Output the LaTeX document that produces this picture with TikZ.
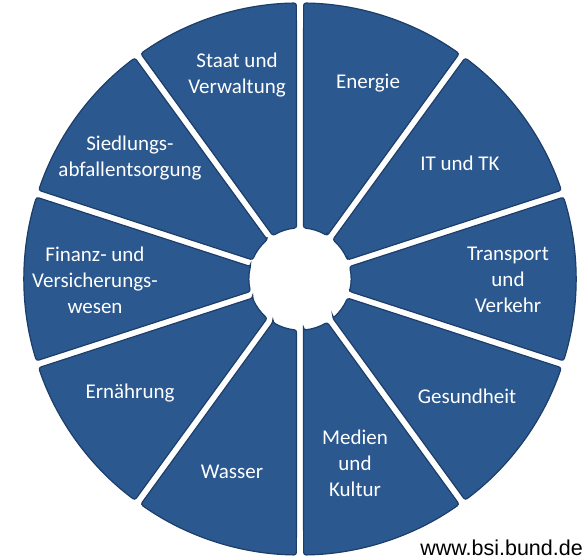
\documentclass[tikz,border=0pt]{standalone}
\usepackage{fontspec}
\setmainfont{Carlito}
\newfontfamily\urlfont{Liberation Sans}
\definecolor{bsiblue}{RGB}{42,88,143}
\definecolor{bsirim}{RGB}{28,62,105}
\tikzset{
  sector/.style={fill=bsiblue,draw=bsirim,line width=1.2pt,rounded corners=2.5pt},
  sectorlabel/.style={text=white,align=center,font=\fontsize{21}{26}\selectfont}
}
\begin{document}
\begin{tikzpicture}[x=1pt,y=1pt]
\useasboundingbox (0,0) rectangle (587,559);
\coordinate (c) at (300,280);
\foreach \a in {90,126,...,414}
  \draw[sector] ([shift={(\a+3.9:51)}]c) -- ([shift={(\a+0.75:276)}]c)
    arc[start angle=\a+0.75,end angle=\a+35.25,radius=276]
    -- ([shift={(\a+32.1:51)}]c)
    arc[start angle=\a+32.1,end angle=\a+3.9,radius=51] -- cycle;
\node[sectorlabel] (staat) at (237,484) {Staat und\\Verwaltung};
\node[sectorlabel] (energie) at (368,476) {Energie};
\node[sectorlabel] (siedlung) at (130,401) {Siedlungs-\\abfallentsorgung};
\node[sectorlabel] (ittk) at (460,396) {IT und TK};
\node[sectorlabel] (finanz) at (95,279) {Finanz- und\\Versicherungs-\\wesen};
\node[sectorlabel] (transport) at (508,279) {Transport\\und\\Verkehr};
\node[sectorlabel] (ernaehrung) at (130,166) {Ernährung};
\node[sectorlabel] (gesundheit) at (467,163) {Gesundheit};
\node[sectorlabel] (wasser) at (232,87) {Wasser};
\node[sectorlabel] (medien) at (355,96) {Medien\\und\\Kultur};
\node[anchor=base east,inner sep=0pt,font=\urlfont\fontsize{21.5}{25}\selectfont] (url) at (583,3) {www.bsi.bund.de};
\end{tikzpicture}
\end{document}
